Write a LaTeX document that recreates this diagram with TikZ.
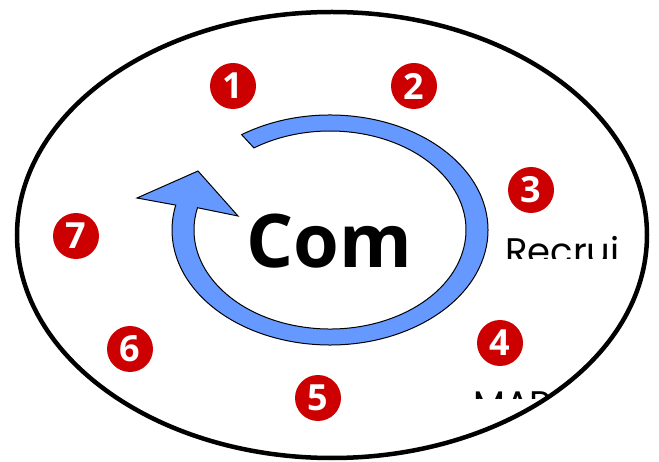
\documentclass[tikz,border=0pt]{standalone}
\usepackage{fontspec}
\newfontfamily\pop{Poppins}
\newfontfamily\osans{Open Sans}
\definecolor{numred}{RGB}{204,0,0}
\definecolor{arrowblue}{RGB}{102,153,255}
\tikzset{
  numc/.style={circle, fill=numred, minimum size=46pt, inner sep=0pt, text=white,
    font=\osans\bfseries\fontsize{36}{36}\selectfont},
  sidetext/.style={anchor=base west, inner sep=0pt, font=\pop\fontsize{37}{37}\selectfont},
}
\begin{document}
\begin{tikzpicture}[x=1pt,y=1pt]
\useasboundingbox (0,0) rectangle (659,461);
\fill[white] (0,0) rectangle (659,461);
% outer ellipse
\draw[line width=4.5pt] (332,226) ellipse [x radius=315pt, y radius=223pt];
% circular arrow
\filldraw[fill=arrowblue, draw=black, line width=1pt, line join=miter]
  ([shift={(124:158pt and 115pt)}]330,231) arc[start angle=124, end angle=-192.5, x radius=158pt, y radius=115pt]
  -- (137,263) -- (198,290) -- (238,245)
  -- ([shift={(-193:136pt and 99pt)}]330,231) arc[start angle=-193, end angle=124, x radius=136pt, y radius=99pt]
  -- cycle;
% centre text
\node[anchor=base west, inner sep=0pt, font=\osans\bfseries\fontsize{74}{74}\selectfont] (com) at (246,193) {Com};
% numbered circles
\node[numc] (n1) at (233,375) {1};
\node[numc] (n2) at (414,375) {2};
\node[numc] (n3) at (531,271) {3};
\node[numc] (n4) at (500,118) {4};
\node[numc] (n5) at (318,63) {5};
\node[numc] (n6) at (130,112) {6};
\node[numc] (n7) at (76,225) {7};
% clipped side texts
\begin{scope}
  \clip (480,202) rectangle (659,240);
  \node[sidetext] (recrui) at (505,196) {Recrui};
\end{scope}
\begin{scope}
  \clip (460,63) rectangle (560,80);
  \node[sidetext] (mar) at (473,44) {MAR};
\end{scope}
\end{tikzpicture}
\end{document}
